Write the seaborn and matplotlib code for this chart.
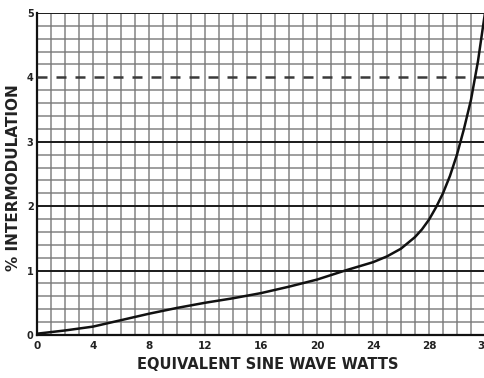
import numpy as np
import pandas as pd
import matplotlib
matplotlib.use("Agg")
import matplotlib.pyplot as plt
from matplotlib.ticker import MultipleLocator
import seaborn as sns

# values
watts = [0, 2, 4, 6, 8, 10, 12, 14, 16, 18, 20, 22, 24, 25, 26, 27, 27.5, 28,
         28.5, 29, 29.5, 30, 30.5, 31, 31.5, 32]
intermod = [0.02, 0.07, 0.13, 0.23, 0.33, 0.42, 0.50, 0.57, 0.65, 0.75, 0.86, 1.00,
            1.13, 1.22, 1.34, 1.52, 1.64, 1.79, 1.98, 2.20, 2.47, 2.80, 3.20, 3.65,
            4.25, 5.00]
x_ticks = [0, 4, 8, 12, 16, 20, 24, 28, 32]
y_ticks = [0, 1, 2, 3, 4, 5]
heavy_levels = [1, 2, 3, 5]
limit_level = 4

df = pd.DataFrame({"watts": watts, "intermod": intermod})

sns.set_style("white")
plt.rcParams['font.family'] = ['DejaVu Sans']

fig = plt.figure(figsize=(4.84, 3.78), dpi=100)
# the 32 W edge sits just past the right border, as on the scan
ax = fig.add_axes([0.0764, 0.1138, 0.9256, 0.8519])

ax.set_xlim(0, 32)
ax.set_ylim(0, 5)

# graph paper grid
ax.xaxis.set_minor_locator(MultipleLocator(1))
ax.yaxis.set_minor_locator(MultipleLocator(0.2))
ax.grid(which="minor", axis="both", color="#777777", linewidth=1.1, alpha=0.9)
ax.grid(which="major", axis="x", color="#777777", linewidth=1.1, alpha=0.9)
ax.set_axisbelow(True)
for lvl in heavy_levels:
    ax.axhline(lvl, color="#1a1a1a", linewidth=1.4, zorder=1)

# dashed limit line at 4 %
ax.axhline(limit_level, color="#3a3a3a", linewidth=1.8, linestyle=(0, (4, 3.6)), zorder=3)

sns.lineplot(data=df, x="watts", y="intermod", ax=ax, color="#111111",
             linewidth=1.8, zorder=4)

ax.set_xticks(x_ticks)
ax.set_yticks(y_ticks)
ax.set_xticklabels([str(v) for v in x_ticks], fontsize=7.5, fontweight="bold", color="#222222")
ax.set_yticklabels([str(v) for v in y_ticks], fontsize=7, fontweight="bold", color="#222222")
ax.tick_params(axis="both", which="both", length=0)
ax.tick_params(axis="x", pad=4)
ax.tick_params(axis="y", pad=2.5)

ax.set_xlabel("EQUIVALENT SINE WAVE WATTS", fontsize=10.5, fontweight="bold",
              color="#222222")
ax.set_ylabel("% INTERMODULATION", fontsize=11, fontweight="bold",
              color="#222222")
ax.xaxis.set_label_coords(0.516, -0.068)
ax.yaxis.set_label_coords(-0.036, 0.49)

for side in ["top", "right"]:
    ax.spines[side].set_visible(False)
for side in ["left", "bottom"]:
    ax.spines[side].set_color("#111111")
    ax.spines[side].set_linewidth(1.6)

fig.savefig("out.png", dpi=100, facecolor="white")
